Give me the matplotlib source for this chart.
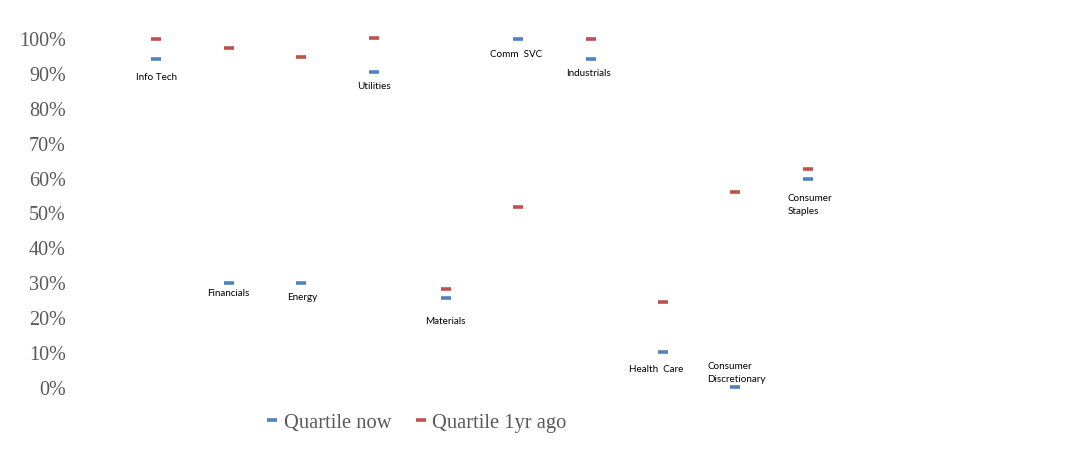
import numpy as np
import matplotlib.pyplot as plt
from matplotlib.ticker import PercentFormatter

sectors = ["Info Tech", "Financials", "Energy", "Utilities", "Materials",
           "Comm  SVC", "Industrials", "Health  Care", "Consumer\nDiscretionary",
           "Consumer\nStaples"]
quartile_now = [0.941, 0.298, 0.298, 0.903, 0.256, 0.998, 0.941, 0.101, 0.001, 0.597]
quartile_1yr = [0.998, 0.972, 0.946, 1.000, 0.282, 0.517, 0.998, 0.244, 0.560, 0.626]

# label offsets (pixels) relative to the "now" marker
label_dx = [0, 0, 1, 0, -1, -2, -2, -7, 1, 2]
label_dy = [-18, -10, -14, -14, -23, -15, -14, -17, 15, -25]

BLUE = "#4F81BD"
RED = "#C0504D"
GREY = "#595959"

fig = plt.figure(figsize=(10.88, 4.6), dpi=100)
ax = fig.add_axes([84 / 1088, (460 - 388) / 460, (1080 - 84) / 1088, 349 / 460])

x = np.arange(len(sectors))
ax.plot(x, quartile_now, ls="none", marker="_", ms=7.5, mew=2.6, color=BLUE,
        label="Quartile now", clip_on=False)
ax.plot(x, quartile_1yr, ls="none", marker="_", ms=7.5, mew=2.6, color=RED,
        label="Quartile 1yr ago", clip_on=False)

for xi, yi, name, dx, dy in zip(x, quartile_now, sectors, label_dx, label_dy):
    ax.annotate(name, (xi, yi), xytext=(dx, dy), textcoords="offset pixels",
                ha="center", va="center", multialignment="left",
                fontsize=7.1, family="Lato", color="black", linespacing=1.6)

ax.set_xlim(-1, 12.76)
ax.set_ylim(0, 1)
ax.set_yticks(np.arange(0, 1.01, 0.1))
ax.yaxis.set_major_formatter(PercentFormatter(1.0, decimals=0))
ax.set_xticks([])
ax.tick_params(axis="y", length=0, pad=13, labelsize=14.5, labelcolor=GREY)
for lab in ax.get_yticklabels():
    lab.set_family("Liberation Serif")
for s in ax.spines.values():
    s.set_visible(False)

fig.legend(loc="center", bbox_to_anchor=(417 / 1088, 1 - 423 / 460), ncol=2,
           frameon=False, prop={"family": "Liberation Serif", "size": 14.8},
           labelcolor=GREY, handlelength=0.5, handletextpad=0.3,
           columnspacing=1.2, markerscale=0.9)

fig.savefig("out.png", dpi=100)
